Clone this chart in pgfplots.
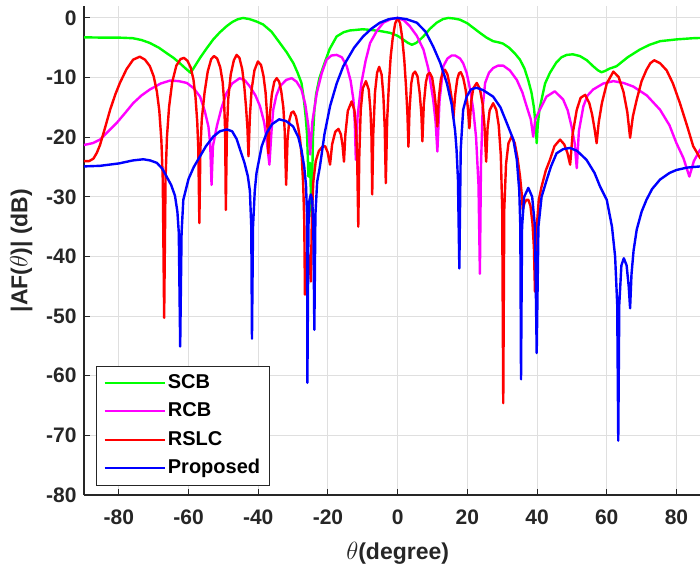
\documentclass[border=0pt]{standalone}
\usepackage{pgfplots}
\pgfplotsset{compat=1.18}
\usepackage{fontspec}
\setmainfont{Liberation Sans}
\definecolor{axgray}{RGB}{38,38,38}
\definecolor{gridgray}{RGB}{223,223,223}
\definecolor{cgreen}{RGB}{0,255,0}
\definecolor{cmag}{RGB}{255,0,255}
\definecolor{cred}{RGB}{255,0,0}
\definecolor{cblue}{RGB}{0,0,255}
\begin{document}
\begin{tikzpicture}
\useasboundingbox (-84pt,-72pt) rectangle (616pt,495pt);
\begin{axis}[
  scale only axis, width=627.3pt, height=489pt,
  xmin=-90, xmax=90, ymin=-80, ymax=2,
  axis lines*=left,
  xtick={-80,-60,...,80}, ytick={-80,-70,...,0},
  grid=major, major grid style={gridgray, line width=1pt},
  tick align=inside, major tick length=6pt,
  tick style={axgray, line width=1pt},
  axis line style={axgray, line width=1.2pt},
  /pgf/number format/assume math mode=true,
  ticklabel style={font=\fontsize{21}{25}\selectfont\bfseries, text=axgray},
  xticklabel style={yshift=-11pt},
  yticklabel style={xshift=-4pt},
  xlabel={$\theta$(degree)}, ylabel={|AF($\theta$)| (dB)},
  label style={font=\fontsize{23}{27}\selectfont\bfseries, text=axgray},
  xlabel style={at={(axis description cs:0.5,-0.1186)}, anchor=center},
  ylabel style={at={(axis description cs:-0.1,0.5)}, anchor=center},
  legend cell align=left,
  legend style={at={(axis description cs:0,0)}, anchor=south west, xshift=12pt, yshift=9.5pt,
    draw=axgray, line width=1pt, fill=white, font=\fontsize{20}{24}\selectfont\bfseries, text=black,
    inner xsep=7pt, inner ysep=5.5pt, row sep=6pt,
    nodes={inner sep=2pt, text height=14.5pt, text depth=4pt}},
  legend image code/.code={\draw[#1] (0pt,0pt) -- (60pt,0pt);},
  every axis plot/.append style={line width=2.4pt, line join=round},
]
\addplot[color=cgreen] coordinates {
(-90,-3.25) (-85,-3.3) (-80,-3.3) (-76,-3.4) (-73.5,-3.7) (-71.1,-4.2) (-68.5,-5.0) (-66.3,-5.9) (-64.3,-6.7) (-62.5,-7.6) (-60.8,-8.5) (-59.4,-9.2) (-58.3,-8.2) (-56.7,-6.7) (-54.8,-5.1) (-52.9,-3.6) (-51,-2.4) (-49.1,-1.4) (-47.5,-0.7) (-46,-0.25) (-44.4,0) (-42.5,-0.2) (-40.5,-0.6) (-38.6,-1.1) (-36.2,-2.3) (-33.8,-4.2) (-31.8,-5.8) (-29.9,-7.6) (-28.7,-9.2) (-27.6,-10.9) (-26.9,-13.7) (-26.4,-16.5) (-26.0,-19.5) (-25.6,-26.6) (-25.15,-24.3) (-24.7,-33.3) (-24.3,-20) (-23.9,-15.5) (-23.4,-12.8) (-22.5,-10.2) (-21.3,-8.1) (-19.5,-5.2) (-17.5,-3.1) (-15.5,-2.4) (-13.7,-2.1) (-10,-1.9) (-7.9,-2.0) (-5,-2.2) (-2.2,-2.5) (0,-3.0) (1.5,-3.6) (3,-4.2) (4.1,-4.5) (5.3,-4.2) (6.3,-3.7) (7.4,-3.1) (9.3,-1.8) (11.2,-0.8) (13,-0.2) (14.5,0) (16.2,-0.1) (17.9,-0.3) (20,-0.9) (21.8,-1.7) (23.6,-2.5) (25.5,-3.3) (27.4,-3.9) (29,-4.1) (30.2,-4.3) (32,-5.0) (33.7,-6.0) (35.1,-7.0) (36.4,-8.5) (37.5,-10.5) (38.4,-12.5) (39.1,-15) (39.6,-18) (39.9,-21) (40.2,-18) (40.7,-15.3) (41.3,-13.7) (42.3,-11) (43.7,-9.2) (45.5,-7.5) (47,-6.6) (48.5,-6.2) (50.3,-6.1) (52.3,-6.4) (54.3,-7.1) (56.1,-8.1) (57.5,-8.8) (58.5,-9.1) (59.5,-8.9) (60.8,-8.5) (62.8,-8.1) (66,-6.6) (69.5,-5.3) (72.3,-4.5) (75.3,-3.9) (80,-3.6) (84.8,-3.4) (90,-3.3)
};
\addplot[color=cmag] coordinates {
(-90,-21.3) (-87.5,-21) (-85.4,-20.4) (-83,-19) (-80.6,-17.6) (-78,-15.8) (-75.9,-14.3) (-73.5,-13) (-71.1,-12) (-68,-11) (-65.3,-10.5) (-62.8,-10.6) (-60.5,-10.9) (-58.5,-11.8) (-56.7,-13.2) (-55.4,-15.5) (-54.3,-18.2) (-53.8,-21) (-53.4,-28) (-53,-21.5) (-51.9,-18.2) (-50.5,-15) (-49.1,-12.6) (-47.5,-11) (-45.3,-10.1) (-43.8,-10.5) (-42.4,-11.5) (-40.8,-13) (-39.5,-14.8) (-38.3,-17.5) (-37.6,-20.4) (-36.8,-24.6) (-36.2,-19) (-35.7,-15.4) (-34.8,-13) (-33.8,-11.5) (-32,-10.4) (-30.4,-10.1) (-29,-10.7) (-27.6,-12) (-26.5,-14.5) (-25.6,-18.2) (-25.1,-22.9) (-24.5,-17.5) (-23.2,-12.6) (-21.8,-9.3) (-20.4,-7) (-19,-6.3) (-17.5,-6.2) (-16,-6.6) (-14.6,-8.1) (-13.5,-10.5) (-12.7,-13.7) (-12.3,-17.5) (-12,-23.8) (-11.5,-16.5) (-10.4,-10.9) (-9.2,-7.2) (-7.9,-4.2) (-6,-2.2) (-4.1,-0.8) (-2,-0.2) (0,0) (1.8,-0.4) (3.5,-1.4) (5.5,-3) (7.4,-5.3) (8.8,-8.5) (10.2,-13.7) (10.9,-17.5) (11.4,-22.4) (12,-14) (13.1,-8.1) (14.3,-6.8) (15.5,-6.3) (16.5,-6.3) (17.9,-6.8) (18.8,-7.6) (19.8,-9.2) (20.8,-12) (21.7,-15.4) (22.5,-20) (23.2,-28) (23.6,-42.9) (23.9,-25) (24.4,-15) (25.1,-10.9) (26.2,-9.2) (27.4,-8.4) (28.8,-8.0) (30.3,-8.0) (32.2,-8.8) (34.2,-10.4) (35.8,-12.5) (37,-14.8) (38.2,-17) (38.9,-19.9) (39.5,-17) (40.8,-15.4) (42.7,-13.2) (45.1,-12.3) (47.5,-13.7) (48.8,-15.5) (49.9,-18.2) (50.8,-21) (51.4,-25.2) (52,-19) (53.3,-14.8) (54.5,-13) (56.1,-12) (59,-11) (61.9,-10.6) (64.8,-10.9) (67.6,-11.5) (71.5,-13) (75.3,-15.4) (78,-18) (80,-21) (82,-23.5) (83.7,-26.6) (85,-24) (86.8,-22.1) (90,-21)
};
\addplot[color=cred] coordinates {
(-90,-24.0) (-88.5,-24.0) (-87.3,-23.6) (-86.3,-22.6) (-85.4,-21.3) (-84,-18.5) (-82.5,-15.4) (-81,-12.8) (-79.7,-10.9) (-77.8,-8.6) (-75.9,-7.0) (-74,-6.5) (-72.5,-7.0) (-71.1,-8.1) (-70,-9.8) (-69.1,-12.3) (-68.4,-15.5) (-67.8,-20.5) (-67.4,-27) (-67.0,-50.3) (-66.6,-27) (-66.2,-20) (-65.6,-15) (-64.7,-10.8) (-63.5,-8) (-62.3,-6.9) (-61.3,-6.7) (-60.3,-7.2) (-59.4,-8.3) (-58.6,-10.3) (-58,-13.3) (-57.5,-17.5) (-57.2,-22) (-56.9,-34.4) (-56.6,-22) (-56.2,-17) (-55.4,-12.5) (-54.5,-9) (-53.5,-6.9) (-52.7,-6.4) (-51.8,-6.8) (-50.9,-8.3) (-50.2,-10.8) (-49.8,-14) (-49.5,-19) (-49.3,-32.2) (-49.0,-19) (-48.6,-13.5) (-47.9,-9.5) (-47,-7.1) (-46.2,-6.2) (-45.4,-6.7) (-44.6,-8.6) (-44,-11.5) (-43.5,-15) (-43.1,-18.5) (-42.8,-23.2) (-42.4,-16.5) (-41.9,-12) (-41.1,-8.8) (-40.1,-7.3) (-39.2,-7.9) (-38.5,-9.7) (-37.9,-12.5) (-37.5,-16) (-37.1,-22.7) (-36.7,-16.5) (-36.1,-12.8) (-35.4,-10.7) (-34.7,-10.1) (-34,-10.7) (-33.4,-12.3) (-32.8,-15) (-32.4,-19) (-32.0,-28) (-31.6,-20.5) (-31.1,-17.2) (-30.5,-15.9) (-29.9,-15.7) (-29.2,-16.5) (-28.5,-18.5) (-28,-20.4) (-27.5,-23.5) (-27.1,-28) (-26.8,-34) (-26.6,-46.4) (-26.3,-41) (-25.8,-39.2) (-25.3,-40.5) (-24.9,-44.2) (-24.6,-33) (-24.2,-27.5) (-23.5,-24) (-22.6,-22.3) (-21.6,-21.6) (-20.8,-21.5) (-20.1,-22.5) (-19.4,-24.6) (-18.8,-21.2) (-17.9,-19.1) (-17.0,-18.6) (-16.3,-19.5) (-15.8,-21.4) (-15.4,-24.1) (-15.0,-19.5) (-14.3,-15.6) (-13.2,-14.0) (-12.4,-15.5) (-11.9,-19) (-11.6,-24) (-11.3,-35) (-11.0,-23) (-10.6,-15.5) (-10.0,-11.8) (-9.1,-10.6) (-8.3,-12) (-7.8,-15.5) (-7.5,-20) (-7.3,-29.6) (-7.0,-19.5) (-6.5,-12.5) (-5.9,-9.2) (-5.3,-8.2) (-4.6,-9.5) (-4.1,-13) (-3.7,-18.5) (-3.4,-27.7) (-3.0,-17) (-2.5,-11) (-2.0,-6.5) (-1.4,-3.3) (-0.7,-0.9) (0,0) (0.7,-0.9) (1.3,-3.3) (1.9,-7) (2.4,-11.5) (2.8,-16) (3.1,-21.6) (3.4,-15.5) (3.9,-11) (4.4,-9.4) (5.0,-9.0) (5.7,-9.8) (6.3,-12.5) (6.8,-16) (7.1,-20.7) (7.5,-14.5) (8.1,-10.8) (8.6,-9.5) (9.2,-9.2) (9.9,-10) (10.5,-12.3) (11.0,-15) (11.4,-18.2) (11.8,-13.5) (12.4,-10.3) (13.0,-9.0) (13.6,-8.7) (14.3,-9.5) (14.9,-11.2) (15.5,-13.5) (16.0,-16.8) (16.5,-13) (17.1,-10.3) (17.6,-9.3) (18.1,-9.1) (18.8,-10) (19.5,-12) (20.1,-14.8) (20.6,-18.5) (21.1,-14) (21.7,-11.8) (22.7,-10.9) (23.6,-11.9) (24.4,-14.5) (24.9,-18) (25.4,-24.1) (25.8,-18.5) (26.4,-15.5) (27.4,-14.3) (28.3,-15.4) (29.0,-18) (29.6,-23) (30.0,-32) (30.3,-64.6) (30.6,-32) (31.1,-24.5) (31.8,-21) (32.7,-19.9) (33.6,-21) (34.4,-23.5) (35.1,-26.5) (35.6,-29.5) (35.9,-32.2) (36.4,-31) (37.0,-30.5) (37.5,-30.5) (38.1,-31.5) (38.7,-34.5) (39.1,-38.5) (39.4,-45.9) (39.8,-36) (40.5,-30.5) (41.3,-28.3) (42.5,-25.6) (43.7,-23.8) (45,-21.5) (46.6,-20.4) (47.8,-21.2) (48.7,-22.6) (49.5,-24.6) (50.2,-19.5) (51.4,-15.4) (52.5,-13.4) (53.8,-12.9) (55,-14.3) (55.8,-16.2) (56.5,-18.6) (57.1,-21) (57.7,-17.5) (58.6,-14.3) (60,-11) (61.9,-9) (63.4,-9.9) (64.8,-12.4) (65.9,-15.8) (66.7,-20.1) (67.5,-16.5) (68.6,-13.7) (70,-10.6) (71.4,-8.7) (72.5,-7.6) (73.6,-7.1) (75.3,-7.6) (77.2,-8.8) (79,-11) (81,-14.3) (83,-18) (84.8,-21.5) (86.8,-23.5) (90,-25)
};
\addplot[color=cblue] coordinates {
(-90,-24.9) (-85.4,-24.8) (-80,-24.4) (-76,-23.9) (-73,-23.7) (-71,-23.9) (-69.1,-24.3) (-67.5,-25.3) (-66.3,-26.6) (-65,-28) (-63.9,-29.8) (-63.2,-32.5) (-62.8,-36) (-62.4,-55.1) (-62,-36) (-61.5,-30.5) (-60,-27) (-58.5,-25) (-56.7,-23.2) (-55,-21.5) (-52.9,-19.9) (-51,-19) (-49,-18.7) (-47.5,-19) (-46.2,-20.3) (-45.2,-22.1) (-44,-24.2) (-43,-26.5) (-42.4,-29) (-42,-35) (-41.8,-53.8) (-41.5,-35) (-41,-29) (-40.5,-26) (-39,-21.5) (-37.6,-19.3) (-36,-17.8) (-34,-17.0) (-32,-17.3) (-30,-18.2) (-28.5,-20) (-27.6,-22.1) (-26.8,-25) (-26.3,-28) (-26.0,-33) (-25.9,-61.2) (-25.6,-35) (-25.3,-30.5) (-24.9,-29.6) (-24.5,-30.5) (-24.2,-35) (-23.9,-52.3) (-23.6,-33) (-23.1,-27.5) (-22.3,-24.9) (-21,-19.5) (-19.4,-14.8) (-17.5,-11) (-15.6,-8.1) (-12.5,-5) (-9.9,-3.1) (-7.5,-1.8) (-5.1,-0.8) (-2.5,-0.2) (0,0) (2.5,-0.2) (5.5,-0.8) (8,-2.3) (10.2,-4.8) (12.2,-7.5) (14.1,-10.9) (15.5,-14.5) (16.5,-19) (16.9,-22.1) (17.3,-27) (17.7,-42) (18.1,-22) (18.8,-15.4) (19.8,-13.2) (21,-12) (22.6,-11.7) (24.5,-12.1) (27.4,-13.2) (29.5,-15) (31.3,-17.6) (33.2,-20.4) (34.2,-23.8) (34.9,-29) (35.2,-35) (35.4,-60.6) (35.7,-35) (36.3,-30) (37.5,-28.5) (38.6,-30) (39.4,-35) (39.9,-56.2) (40.4,-35) (41.3,-30) (42.8,-27.1) (44,-24.9) (45.6,-22.7) (47.5,-22) (49.5,-21.8) (51.5,-22.3) (54.2,-23.8) (56.5,-26) (58.1,-28.3) (60,-30.5) (61.5,-35) (62.4,-40) (63,-48) (63.3,-70.9) (63.6,-48) (64.2,-41.5) (64.9,-40.3) (65.7,-41.5) (66.3,-45) (66.7,-48.7) (67.1,-43) (67.7,-39) (68.6,-35.5) (70,-32.5) (71.4,-30.5) (73,-28.7) (75.3,-27.1) (78,-26) (80,-25.5) (83,-25.1) (86.8,-24.9) (90,-24.8)
};
\legend{SCB,RCB,RSLC,Proposed}
\end{axis}
\end{tikzpicture}
\end{document}
